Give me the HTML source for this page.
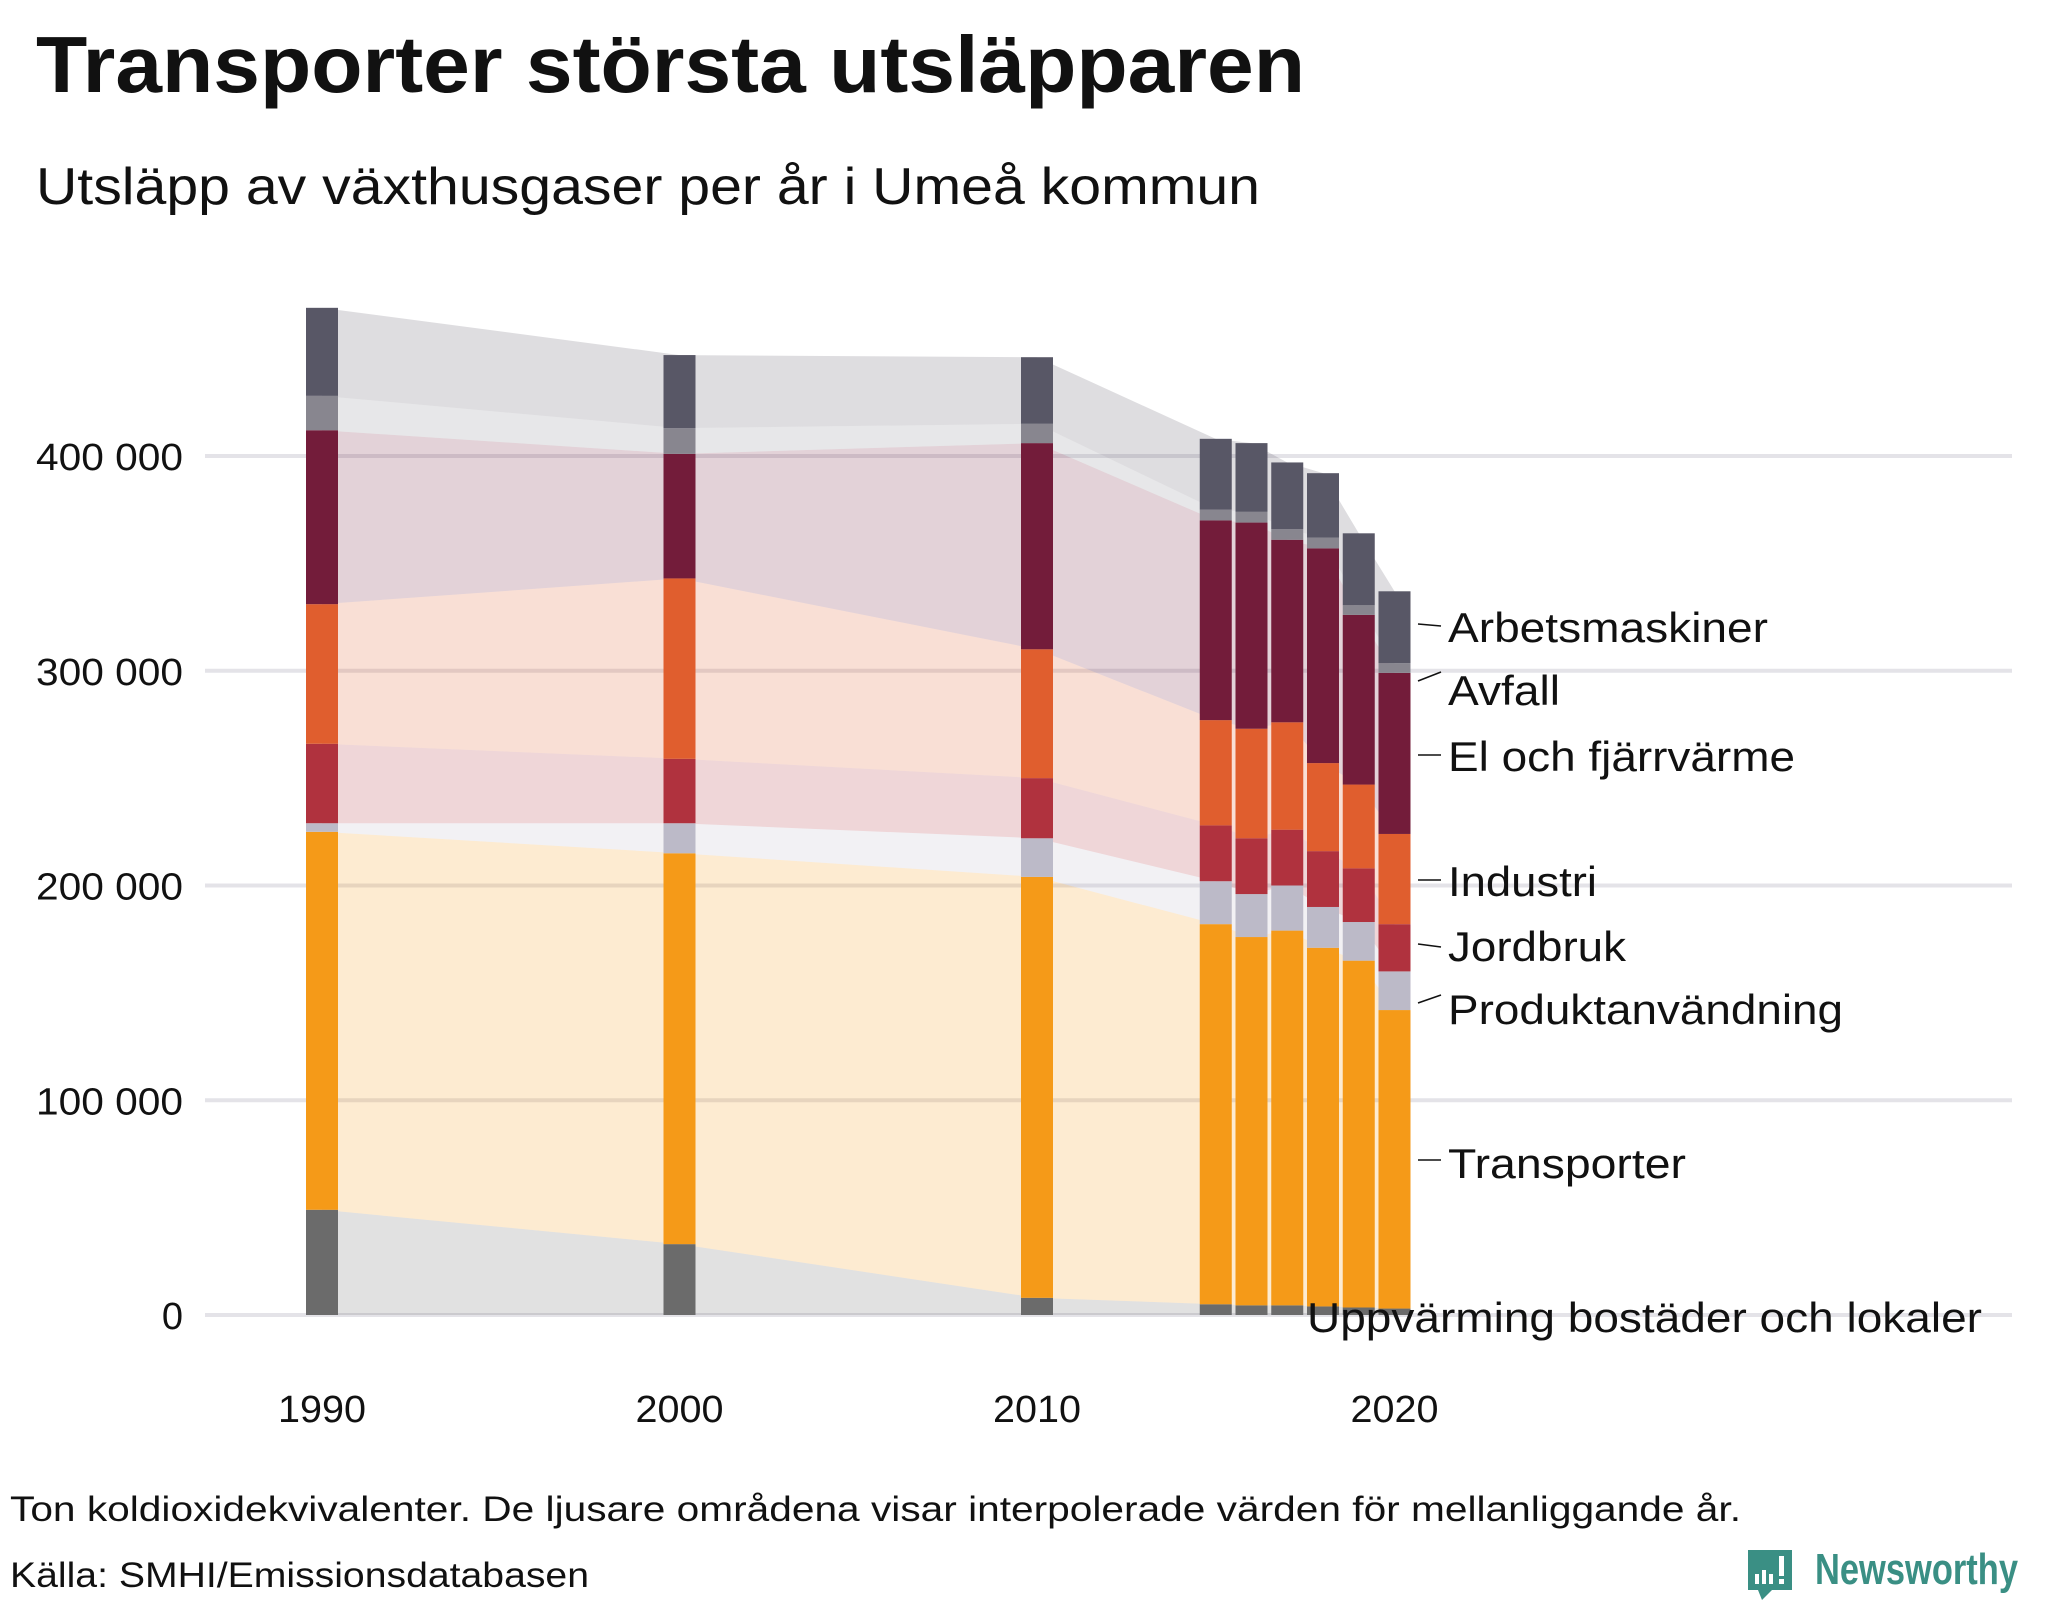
<!DOCTYPE html>
<html><head><meta charset="utf-8"><style>
html,body{margin:0;padding:0;background:#fff;}
svg{display:block;font-family:"Liberation Sans",sans-serif;}
</style></head><body>
<svg id="chart" width="2048" height="1600" viewBox="0 0 2048 1600">
<text x="36" y="92" font-size="80" font-weight="bold" fill="#111" textLength="1269" lengthAdjust="spacingAndGlyphs">Transporter största utsläpparen</text>
<text x="36" y="204" font-size="52" fill="#111" textLength="1224" lengthAdjust="spacingAndGlyphs">Utsläpp av växthusgaser per år i Umeå kommun</text>
<g id="grid"></g>
<g id="areas"></g>
<g id="bars"></g>
<g id="labels"></g>
<text x="10" y="1521" font-size="35" fill="#111" textLength="1731" lengthAdjust="spacingAndGlyphs">Ton koldioxidekvivalenter. De ljusare områdena visar interpolerade värden för mellanliggande år.</text>
<text x="10" y="1587" font-size="35" fill="#111" textLength="579" lengthAdjust="spacingAndGlyphs">Källa: SMHI/Emissionsdatabasen</text>
<g>
<path d="M1748 1550 h44 v40 h-20 l-10 10 l-4 -10 h-10 z" fill="#3a8f84"/>
<rect x="1755" y="1574" width="4" height="10" fill="#fff"/><rect x="1762" y="1570" width="4" height="14" fill="#fff"/><rect x="1769" y="1574" width="4" height="10" fill="#fff"/><rect x="1779" y="1556" width="5" height="20" fill="#fff"/><rect x="1779" y="1579" width="5" height="5" fill="#fff"/>
<text x="1815" y="1584" font-size="44" font-weight="bold" fill="#3a8f84" textLength="203" lengthAdjust="spacingAndGlyphs">Newsworthy</text>
</g>
</svg>
<script>
const years = [1990, 2000, 2010, 2015, 2016, 2017, 2018, 2019, 2020];
const seriesNames = ["Uppvärming bostäder och lokaler","Transporter","Produktanvändning","Jordbruk","Industri","El och fjärrvärme","Avfall","Arbetsmaskiner"];
const uppvarming = [49, 33, 8, 5, 4.5, 4.5, 4, 3.5, 3];
const transporter = [176, 182, 196, 177, 171.5, 174.5, 167, 161.5, 139];
const produkt = [4, 14, 18, 20, 20, 21, 19, 18, 18];
const jordbruk = [37, 30, 28, 26, 26, 26, 26, 25, 22];
const industri = [65, 84, 60, 49, 51, 50, 41, 39, 42];
const elfjarr = [81, 58, 96, 93, 96, 85, 100, 79, 75];
const avfall = [16, 12, 9, 5, 5, 5, 5, 4.5, 4.5];
const arbets = [41, 34, 31, 33, 32, 31, 30, 33.5, 33.5];
const yTicks = [0, 100000, 200000, 300000, 400000];
const yTickLabels = ["0", "100 000", "200 000", "300 000", "400 000"];
const xTicks = [1990, 2000, 2010, 2020];
const colors = ["#6b6b6b","#f59a18","#bcbac8","#b0323e","#e05e2e","#731c3a","#88868f","#585766"];

const series = [uppvarming, transporter, produkt, jordbruk, industri, elfjarr, avfall, arbets];
const NS = "http://www.w3.org/2000/svg";
const x = yr => 322 + (yr - 1990) * 35.75;
const y = v => 1315 - v * 0.0021475;
const barW = 32;
function mk(tag, attrs, parent){const e=document.createElementNS(NS,tag);for(const k in attrs)e.setAttribute(k,attrs[k]);parent.appendChild(e);return e;}

const grid = document.getElementById('grid');
yTicks.forEach((t,i)=>{
  const l = mk('line',{x1:205,x2:2012,y1:y(t),y2:y(t),stroke:'#e4e3e8','stroke-width':4},grid);
  
  
  const attrs = {x:183,y:y(t)+14,'text-anchor':'end','font-size':38,fill:'#111'};
  if (yTickLabels[i].length > 1) { attrs.textLength = 147; attrs.lengthAdjust = 'spacingAndGlyphs'; }
  const tx = mk('text',attrs,grid);
  tx.textContent = yTickLabels[i];
  
  
});
xTicks.forEach(t=>{
  const tx = mk('text',{x:x(t),y:1422,'text-anchor':'middle','font-size':38,fill:'#111',textLength:88,lengthAdjust:'spacingAndGlyphs'},grid);
  tx.textContent = String(t);
  
  
});

const lower = [], upper = [];
let acc = years.map(()=>0);
series.forEach((s,si)=>{
  lower.push(acc.slice());
  acc = acc.map((a,i)=>a + s[i]*1000);
  upper.push(acc.slice());
});

const areas = document.getElementById('areas');
series.forEach((s,si)=>{
  let pts = [];
  years.forEach((yr,i)=>pts.push(x(yr)+','+y(upper[si][i])));
  for(let i=years.length-1;i>=0;i--) pts.push(x(years[i])+','+y(lower[si][i]));
  const p = mk('polygon',{points:pts.join(' '),fill:colors[si],'fill-opacity':0.2},areas);
  
  
});

const bars = document.getElementById('bars');
years.forEach((yr,i)=>{
  series.forEach((s,si)=>{
    const r = mk('rect',{x:x(yr)-barW/2,y:y(upper[si][i]),width:barW,height:y(lower[si][i])-y(upper[si][i]),fill:colors[si]},bars);
    
    
  });
});

const labels = document.getElementById('labels');
const lab = [
  {i:7,ty:642,w:320,l1:626,l2:624},
  {i:6,ty:705,w:112,l1:672,l2:681},
  {i:5,ty:771,w:347,l1:755,l2:755},
  {i:4,ty:896,w:149,l1:880,l2:880},
  {i:3,ty:961,w:178,l1:947,l2:944},
  {i:2,ty:1024,w:395,l1:995,l2:1003},
  {i:1,ty:1178,w:238,l1:1160,l2:1160}
];
lab.forEach(o=>{
  const ln = mk('line',{x1:1418,x2:1441,y1:o.l2,y2:o.l1,stroke:'#111','stroke-width':1.5},labels);
  
  
  const t = mk('text',{x:1448,y:o.ty,'font-size':42,fill:'#111',textLength:o.w,lengthAdjust:'spacingAndGlyphs'},labels);
  t.textContent = seriesNames[o.i];
  
  
});
const ut = mk('text',{x:1307,y:1332,'font-size':42,fill:'#111',textLength:675,lengthAdjust:'spacingAndGlyphs'},labels);
ut.textContent = seriesNames[0];


</script>
</body></html>
